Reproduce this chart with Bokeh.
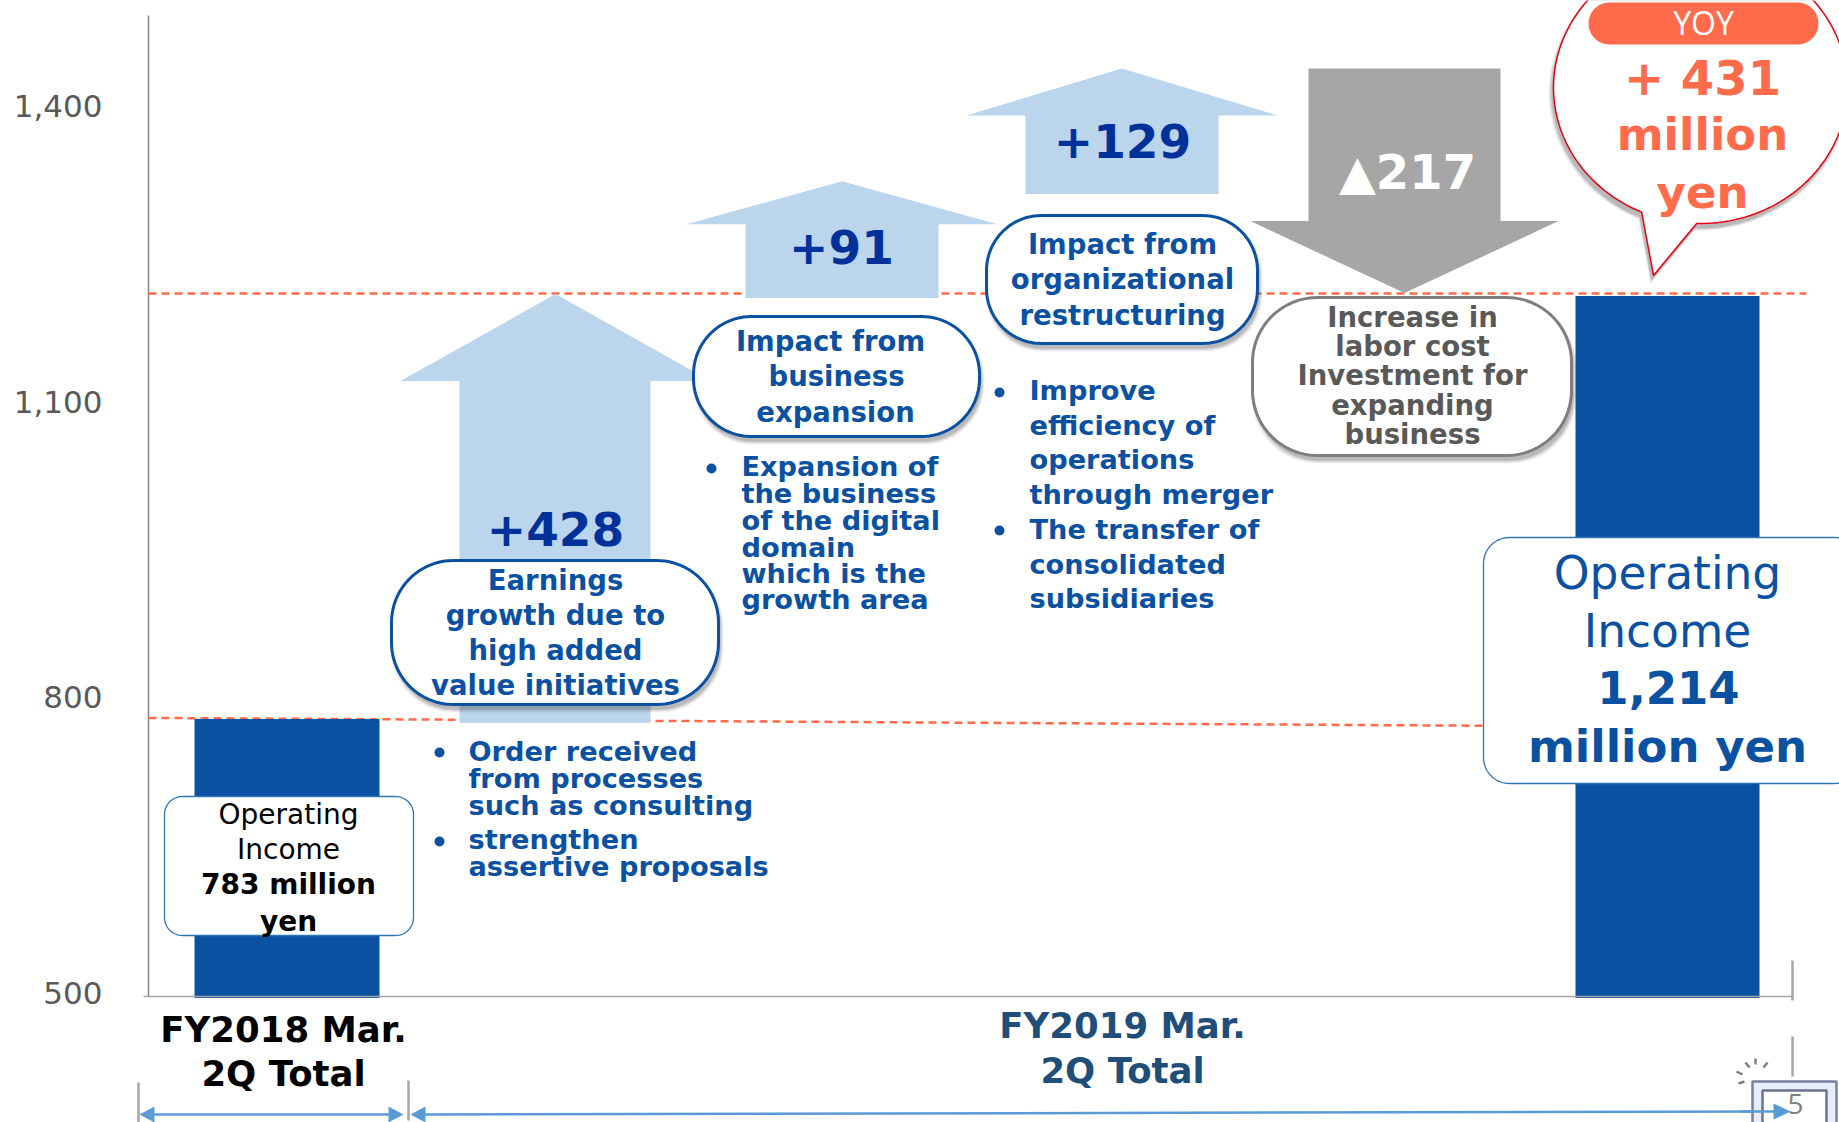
import numpy as np
from bokeh.plotting import figure
from bokeh.models import Range1d, LinearAxis, FixedTicker, NumeralTickFormatter
from bokeh.core.properties import value
from bokeh.embed import file_html
from bokeh.resources import INLINE

# ---- data ----
y_ticks = [500, 800, 1100, 1400]
bar_values = [783, 1214]
ref_upper = [1216.6, 1216.6]
ref_lower = [784.0, 776.0]
up_labels = ["+428", "+91", "+129"]
up_base = [779, 1212, 1318]
up_tip = [1216, 1331, 1446]
down_label = "▲217"
down_top = 1446
down_tip = 1217
yoy_lines = ["+ 431", "million", "yen"]

box_a = ["Earnings", "growth due to", "high added", "value initiatives"]
box_b = ["Impact from", "business", "expansion"]
box_c = ["Impact from", "organizational", "restructuring"]
box_d = ["Increase in", "labor cost", "Investment for", "expanding", "business"]
notes_a = ["Order received", "from processes", "such as consulting", "strengthen", "assertive proposals"]
notes_b = ["Expansion of", "the business", "of the digital", "domain", "which is the", "growth area"]
notes_c = ["Improve", "efficiency of", "operations", "through merger", "The transfer of", "consolidated", "subsidiaries"]
left_box = ["Operating", "Income", "783 million", "yen"]
right_box = ["Operating", "Income", "1,214", "million yen"]

# ---- styles ----
BLUE = "#0B51A1"; DEEP = "#00309A"; PALE = "#BBD5ED"; GREY = "#A6A6A6"
CORAL = "#FF6B4B"; TXT = "#595959"; FONT = "DejaVu Sans"
W, H = 1839, 1122
Y0, K = 996.0, 0.981   # pixel row of 500, pixels per unit

p = figure(width=W, height=H, output_backend="svg", toolbar_location=None,
           x_axis_location=None, y_axis_location=None, min_border=0,
           x_range=Range1d(0, W),
           y_range=Range1d(500 - (H - Y0) / K, 500 + Y0 / K),
           outline_line_color=None, background_fill_color="white",
           border_fill_color="white")
p.grid.visible = False
p.extra_y_ranges = {
    "px": Range1d(H, 0),
    "tick": Range1d(500 - (H - 992) / 0.985, 500 + 992 / 0.985),
}

axis = LinearAxis(y_range_name="tick", ticker=FixedTicker(ticks=y_ticks),
                  formatter=NumeralTickFormatter(format="0,0"),
                  fixed_location=148, axis_line_color=None,
                  major_tick_line_color=None, minor_tick_line_color=None,
                  major_tick_out=0, major_tick_in=0, major_label_standoff=46,
                  major_label_text_font=FONT,
                  major_label_text_font_size="31px",
                  major_label_text_color=TXT)
p.add_layout(axis, "left")


def seg(xs, ys, color, width=1.5, dash="solid"):
    p.line(xs, ys, y_range_name="px", line_color=color, line_width=width, line_dash=dash)


def rounded(x0, y0, x1, y1, r):
    a = np.linspace(0, np.pi / 2, 24)
    xs = np.r_[x1 - r + r * np.cos(a), x0 + r - r * np.sin(a), x0 + r - r * np.cos(a), x1 - r + r * np.sin(a)]
    ys = np.r_[y1 - r + r * np.sin(a), y1 - r + r * np.cos(a), y0 + r - r * np.sin(a), y0 + r - r * np.cos(a)]
    return xs, ys


def shadow(xs, ys, dx=2, dy=5):
    for grow, alpha in ((3, 0.07), (2, 0.09), (1, 0.12), (0, 0.15)):
        cx, cy = xs.mean(), ys.mean()
        sx = 1 + grow / max(xs.max() - cx, 1)
        sy = 1 + grow / max(ys.max() - cy, 1)
        p.patch(cx + (xs - cx) * sx + dx, cy + (ys - cy) * sy + dy, y_range_name="px",
                fill_color="#404040", fill_alpha=alpha, line_color=None)


def box(x0, y0, x1, y1, r, edge=BLUE, lw=3, shade=True):
    xs, ys = rounded(x0, y0, x1, y1, r)
    if shade:
        shadow(xs, ys)
    p.patch(xs, ys, y_range_name="px", fill_color="white", line_color=edge, line_width=lw)


def words(lines, xs, ys, size, color, style="bold", align="center", font=FONT):
    p.text(xs, ys, text=lines, y_range_name="px", text_font=value(font),
           text_font_size=value(f"{size}px"), text_font_style=style,
           text_color=color, text_align=align, text_baseline="middle")


# baseline, y rule
seg([148, 148], [15, 996], "#868686", 1.5)

# reference lines
p.line([148, 1806], ref_upper, line_color=CORAL, line_width=2.5, line_dash="8 5")
p.line([148, 1483], ref_lower, line_color=CORAL, line_width=2.5, line_dash="8 5")

# bars
p.vbar(x=[286.5, 1667], width=[185, 184], bottom=498.5, top=bar_values,
       fill_color=BLUE, line_color=None)
seg([143, 1792], [996, 996], GREY, 1.5)

# up arrows
shaft_x = [(459, 650), (745, 938), (1025, 1218)]
head_x = [(400, 710), (686, 997), (966, 1277)]
head_h = [87, 43, 47]
for (s0, s1), (h0, h1), hh, b, t in zip(shaft_x, head_x, head_h, up_base, up_tip):
    neck = t - hh / K
    p.patch([s0, s0, h0, (h0 + h1) / 2, h1, s1, s1], [b, neck, neck, t, neck, neck, b],
            fill_color=PALE, line_color=None)

# down arrow
neck = down_tip + 72 / K
p.patch([1308, 1308, 1250, 1404, 1558, 1500, 1500],
        [down_top, neck, neck, down_tip, neck, neck, down_top],
        fill_color=GREY, line_color=None)

# arrow labels
words(up_labels, [555, 841, 1122], [528, 246, 140], 47, DEEP)
words([down_label], [1407], [171], 48, "white")

# capsules
box(391, 560, 718, 704, 62)
words(box_a, [555] * 4, [579, 614, 649, 684], 27.5, BLUE)
box(693, 316, 979, 436, 58)
words(box_b, [830, 836, 835], [340, 375, 411], 27.5, BLUE)
box(986, 215, 1257, 343, 55)
words(box_c, [1122] * 3, [243, 278, 314], 27.5, BLUE)
box(1252, 297, 1571, 455, 65, edge="#7F7F7F")
words(box_d, [1412] * 5, [316, 345, 374, 404, 433], 27.5, TXT)

# bullet notes
words(notes_a, [468] * 5, [751, 778, 805, 839, 866], 27.2, BLUE, align="left")
words(notes_b, [741] * 6, [466, 493, 520, 547, 573, 599], 27.2, BLUE, align="left")
words(notes_c, [1029] * 7, [390, 425, 459, 494, 529, 564, 598], 27.2, BLUE, align="left")
p.scatter([439, 439, 711, 999, 999], [752, 841, 468, 392, 530], y_range_name="px", size=10,
          fill_color=BLUE, line_color=None)

# value boxes
box(164, 796, 413, 935, 18, edge="#2E75B6", lw=1.3, shade=False)
words(left_box[:2], [288, 288], [814, 849], 28, "black", style="normal")
words(left_box[2:], [288, 288], [884, 921], 28, "black")
box(1483, 537, 1860, 783, 26, edge="#2E75B6", lw=1.3, shade=False)
words(right_box[:2], [1667, 1667], [573, 631], 45.5, BLUE, style="normal")
words(right_box[2:], [1668, 1667], [687, 746], 45, BLUE)

# category labels
words(["FY2018 Mar.", "2Q Total"], [283, 283], [1029, 1073], 35.5, "black")
words(["FY2019 Mar.", "2Q Total"], [1122, 1122], [1025, 1070], 35.5, "#1F4E79")

# speech bubble
t = np.radians(np.r_[np.linspace(113.6, 451.5, 160)])
bx = np.r_[1700 + 147 * np.cos(t), 1653]
by = np.r_[87 + 136 * np.sin(t), 275]
shadow(bx, by, dx=-2, dy=5)
p.patch(bx, by, y_range_name="px", fill_color="white", line_color="#E60012", line_width=1.5)
xs, ys = rounded(1588, 2, 1818, 44, 21)
p.patch(xs, ys, y_range_name="px", fill_color=CORAL, line_color=None)
words(["YOY"], [1703], [22], 32, "white", style="normal", font="Open Sans")
words(yoy_lines[:1], [1702], [77], 48, CORAL)
words(yoy_lines[1:], [1702, 1702], [134, 192], 45, CORAL)

# span brackets
for x, y0, y1 in ((138, 1082, 1122), (408, 1080, 1120), (1792, 960, 1000), (1792, 1036, 1076)):
    seg([x, x], [y0, y1], GREY, 2.5)
seg([150, 392], [1114, 1114], "#5B9BD5", 2.5)
seg([424, 1775], [1114, 1111], "#5B9BD5", 2.5)
for x0, x1, y in ((139, 154, 1114), (403, 388, 1114), (410, 425, 1114)):
    p.patch([x0, x1, x1], [y, y - 8, y + 8], y_range_name="px", fill_color="#5B9BD5", line_color=None)

# page marker
for x0, y0, x1, y1 in ((1738, 1083, 1744, 1081), (1736, 1071, 1742, 1074), (1745, 1062, 1749, 1067),
                       (1755, 1058, 1755, 1064), (1767, 1062, 1763, 1067)):
    seg([x0, x1], [y0, y1], "#7F7F7F", 2.5)
p.patch([1752, 1752, 1836, 1836], [1130, 1081, 1081, 1130], y_range_name="px",
        fill_color="#E6EEFB", line_color="#7A80A0", line_width=2.5)
p.patch([1762, 1762, 1826, 1826], [1130, 1090, 1090, 1130], y_range_name="px",
        fill_color="white", line_color="#6E7390", line_width=2.5)
words(["5"], [1795], [1103], 28, "#7F7F7F", style="normal", font="Open Sans")
seg([1740, 1775], [1111, 1111], "#5B9BD5", 2.5)
p.patch([1790, 1773, 1773], [1111, 1103, 1119], y_range_name="px", fill_color="#5B9BD5", line_color=None)

open("out.html", "w").write(file_html(p, INLINE))
